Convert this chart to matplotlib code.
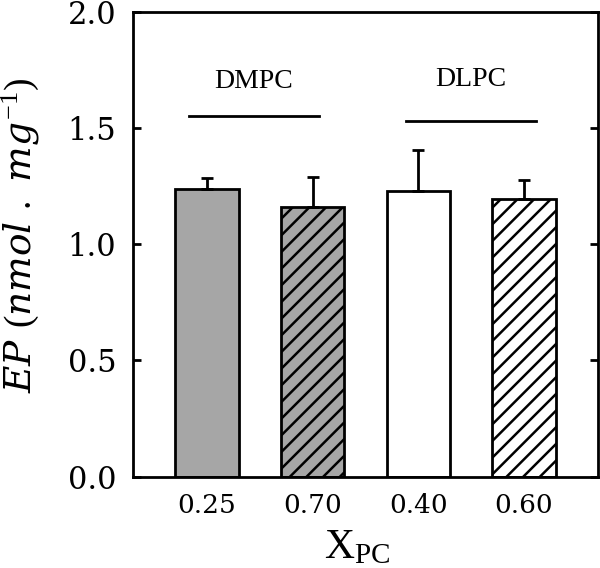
import matplotlib
matplotlib.use("Agg")
import matplotlib.pyplot as plt
import numpy as np

plt.rcParams['mathtext.fontset'] = 'custom'
plt.rcParams['mathtext.rm'] = 'Liberation Serif'
plt.rcParams['mathtext.it'] = 'DejaVu Serif:italic'
plt.rcParams['hatch.linewidth'] = 1.8

# data
labels = ['0.25', '0.70', '0.40', '0.60']
values = [1.236, 1.162, 1.228, 1.196]
errors = [0.05, 0.126, 0.178, 0.08]
colors = ['#a6a6a6', '#a6a6a6', 'white', 'white']
hatches = ['', '//', '', '//']
groups = ['DMPC', 'DLPC']
group_span = [(-0.17, 1.06), (1.885, 3.11)]
group_line_y = [1.55, 1.53]
group_text_y = [1.70, 1.71]

fig = plt.figure(figsize=(6, 5.68), dpi=100)
ax = fig.add_axes([0.2217, 0.1607, 0.775, 0.8187])

x = np.arange(len(labels))
for i in range(len(labels)):
    ax.bar(x[i], values[i], width=0.6, color=colors[i], edgecolor='black',
           linewidth=2, hatch=hatches[i], zorder=2)
ax.errorbar(x, values, yerr=[np.zeros(len(errors)), errors], fmt='none',
            ecolor='black', elinewidth=2, capsize=4.3, capthick=2, zorder=3)

for g in range(len(groups)):
    ax.plot(group_span[g], [group_line_y[g]] * 2, color='black', lw=2)
    ax.text(np.mean(group_span[g]), group_text_y[g], groups[g], ha='center',
            va='center', fontsize=20, family='Liberation Serif')

ax.set_xlim(-0.7, 3.7)
ax.set_ylim(0, 2.0)
ax.set_xticks(x)
ax.set_xticklabels(labels, family='DejaVu Serif', fontsize=19)
ax.set_yticks([0, 0.5, 1.0, 1.5, 2.0])
ax.set_yticklabels(['0.0', '0.5', '1.0', '1.5', '2.0'], family='DejaVu Serif', fontsize=22)
ax.tick_params(axis='x', length=0, pad=12)
ax.tick_params(axis='y', direction='in', length=6, width=2, right=True, pad=12)
for s in ax.spines.values():
    s.set_linewidth(2)

ax.set_xlabel(r'$\mathrm{X_{PC}}$', fontsize=30)
ax.xaxis.set_label_coords(0.482, -0.104)
ax.set_ylabel(r'$\mathit{EP\ (nmol\ .\ mg^{-1})}$', fontsize=27)
ax.yaxis.set_label_coords(-0.196, 0.518)

fig.savefig('out.png', dpi=100)
